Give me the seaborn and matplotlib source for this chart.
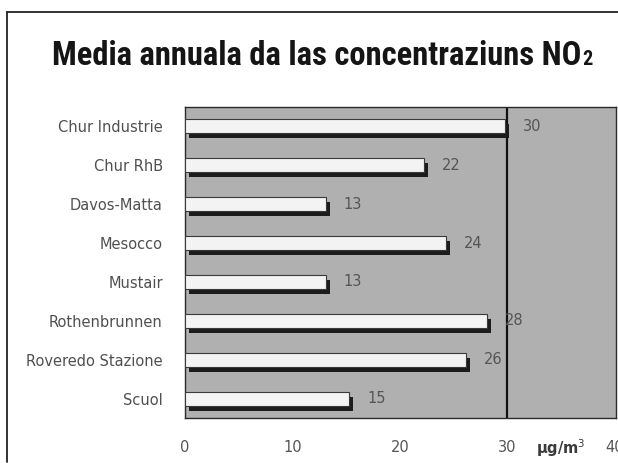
import matplotlib
matplotlib.use("Agg")
import matplotlib.pyplot as plt
import matplotlib.transforms as mtransforms
from matplotlib.lines import Line2D
import seaborn as sns
import pandas as pd

stations = ["Chur Industrie", "Chur RhB", "Davos-Matta", "Mesocco", "Mustair",
            "Rothenbrunnen", "Roveredo Stazione", "Scuol"]
values = [29.8, 22.2, 13.1, 24.3, 13.1, 28.1, 26.1, 15.3]
value_labels = ["30", "22", "13", "24", "13", "28", "26", "15"]
xticks = [0, 10, 20, 30, 40]
xtick_labels = ["0", "10", "20", "30", "40"]
limit_value = 30
title_main = "Media annuala da las concentraziuns NO"
title_sub = "2"
unit = "µg/m$^3$"

df = pd.DataFrame({"station": stations, "value": values})

sns.set_style("white")
plt.rcParams["font.family"] = ["DejaVu Sans"]
title_fonts = ["Roboto Condensed", "Archivo Narrow", "PT Sans Narrow",
               "IBM Plex Sans Condensed", "DejaVu Sans"]

W, H = 618, 463
fig = plt.figure(figsize=(W/100, H/100), dpi=100)
ax = fig.add_axes([185/W, 1-418/H, (616-185)/W, (418-107)/H])
ax.set_facecolor("#b0b0b0")

# shadow bars
sns.barplot(data=df, y="station", x="value", orient="h", color="#1c1c1c",
            width=0.36, saturation=1, ax=ax, zorder=2)
n_shadow = len(ax.patches)
offset = mtransforms.ScaledTranslation(4/100, -5/100, fig.dpi_scale_trans)
for p in ax.patches[:n_shadow]:
    p.set_transform(ax.transData + offset)
    p.set_edgecolor("none")

# white bars
sns.barplot(data=df, y="station", x="value", orient="h", color="#f3f3f3",
            width=0.36, saturation=1, ax=ax, edgecolor="#3a3a3a", linewidth=0.8, zorder=3)

ax.axvline(limit_value, color="#111111", lw=1.6, zorder=1.5)

for i, (v, lab) in enumerate(zip(values, value_labels)):
    ax.annotate(lab, (v, i), xytext=(13, 0), textcoords="offset points",
                ha="left", va="center", fontsize=10.5, color="#555555", zorder=5)

ax.set_xlim(0, 40.1)
ax.set_xticks(xticks)
ax.set_xticklabels(xtick_labels)
ax.set_xlabel("")
ax.set_ylabel("")
ax.tick_params(axis="x", length=4, width=1, color="#777777", pad=12,
               labelsize=10.5, labelcolor="#555555", direction="out")
ax.tick_params(axis="y", length=0, pad=16, labelsize=10.5, labelcolor="#505050")
for s in ax.spines.values():
    s.set_color("#2a2a2a")
    s.set_linewidth(1.0)
    s.set_visible(True)

ax.text(35.0, 1 - 448/H,
        unit, transform=mtransforms.blended_transform_factory(ax.transData, fig.transFigure),
        ha="center", va="center", fontsize=10.5, color="#3a3a3a", fontweight="bold")

# title with subscript 2, centred on x = 322 px
t_main = fig.text(52/W, 1-65/H, title_main, ha="left", va="baseline",
                  fontsize=23.5, fontweight="bold", color="#151515", family=title_fonts)
t_sub = fig.text(0, 1-65/H, title_sub, ha="left", va="baseline",
                 fontsize=14.5, fontweight="bold", color="#151515", family=title_fonts)
fig.canvas.draw()
bm = t_main.get_window_extent()
bs = t_sub.get_window_extent()
total = bm.width + 1 + bs.width
x0 = 322 - total/2
t_main.set_x(x0/W)
t_sub.set_x((x0 + bm.width + 1)/W)

# frame
fig.add_artist(Line2D([7/W, 7/W], [1-462/H, 1-12/H], transform=fig.transFigure,
                      color="#222222", lw=1.3))
fig.add_artist(Line2D([7/W, 1.0], [1-12/H, 1-12/H], transform=fig.transFigure,
                      color="#222222", lw=1.3))

fig.savefig("out.png", dpi=100)
